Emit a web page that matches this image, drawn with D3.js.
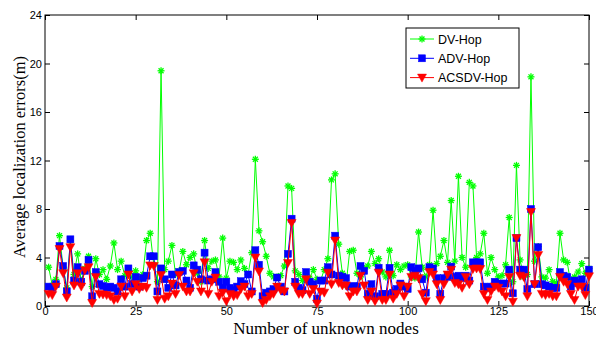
<!DOCTYPE html>
<html lang="en">
<head>
<meta charset="UTF-8">
<title>Average localization errors</title>
<script src="https://cdn.jsdelivr.net/npm/d3@7"></script>
<style>
  body { margin: 0; background: #fff; }
  .axis text { font-family: "Liberation Sans", Arial, sans-serif; font-size: 11px; fill: #000; }
  .axis path, .axis line { stroke: #000; }
</style>
</head>
<body>
<script>
// node index 1..150
var nodes = d3.range(1, 151);
var dvHop = [3.2,1.7,2.2,5.8,3.2,1.5,5.4,2.6,4.3,2.1,3.1,4.1,1.6,3.9,2.6,3.0,2.2,3.3,5.2,3.0,
  3.7,2.5,2.7,2.4,2.9,2.2,2.6,5.4,6.0,3.4,2.0,19.4,3.0,3.7,5.0,2.6,2.9,4.5,3.4,4.0,
  4.3,2.7,2.0,5.4,3.1,3.7,3.8,2.4,5.6,2.3,3.7,3.6,3.0,3.8,3.1,2.6,4.4,12.1,6.2,5.3,
  4.1,2.7,2.4,2.4,2.5,3.3,9.9,9.7,2.9,2.6,2.1,2.4,2.3,3.0,2.2,2.1,3.0,3.9,10.4,10.9,
  5.1,2.7,1.7,4.5,4.6,2.7,2.4,3.1,3.3,4.5,3.5,3.9,2.8,2.4,4.6,2.5,3.4,3.0,3.3,3.4,
  2.4,2.3,6.1,3.2,2.4,3.4,7.9,3.5,4.1,5.4,3.6,8.7,3.7,10.7,4.0,3.2,10.2,9.9,4.0,4.3,
  6.0,2.7,4.0,3.0,2.4,2.5,3.4,7.3,2.0,11.6,3.8,2.4,2.6,18.9,3.7,4.9,2.4,2.3,3.0,2.0,
  1.9,6.0,3.8,3.6,1.8,2.4,2.8,3.5,2.7,3.1];
var advHop = [1.6,1.5,1.8,4.95,3.3,1.2,5.5,2.1,3.2,2.0,2.9,3.8,0.8,2.8,1.8,1.65,1.5,1.6,1.5,1.2,
  2.2,1.6,3.1,1.8,2.4,1.6,2.3,2.5,4.1,4.1,1.2,3.1,2.2,1.5,2.6,1.7,2.8,2.9,2.1,1.5,
  3.35,3.0,2.2,4.4,2.1,2.2,2.8,2.0,1.5,2.0,1.5,1.3,1.6,2.05,1.8,2.6,1.2,4.6,3.4,0.8,
  1.1,1.2,1.4,2.35,1.6,1.2,4.3,7.2,2.0,1.5,1.3,2.8,2.0,1.8,0.6,2.1,2.1,3.2,2.6,5.8,
  2.5,2.4,2.3,1.6,1.65,1.6,3.3,2.9,1.0,1.8,0.8,3.15,1.0,1.0,3.15,1.1,1.4,1.85,1.6,1.4,
  3.2,2.9,3.1,2.2,1.1,3.2,3.1,2.3,1.0,2.3,2.4,3.25,2.4,2.5,2.3,2.5,2.1,3.6,3.6,3.6,
  1.6,1.5,1.6,2.0,1.85,1.85,1.85,3.0,1.05,5.6,3.0,3.0,1.4,8.0,1.8,4.85,1.8,1.7,1.6,1.5,
  1.5,2.8,2.5,2.4,1.6,2.1,1.9,2.2,1.5,3.0];
var acsdvHop = [1.0,0.9,1.6,4.7,2.7,0.7,4.85,1.7,2.7,1.6,2.95,3.2,0.25,2.4,1.0,0.95,0.9,0.8,0.5,0.6,
  1.6,0.8,2.6,1.2,1.8,1.4,1.6,1.5,3.35,3.3,0.5,2.55,0.6,0.8,1.85,1.0,2.55,1.6,1.2,1.2,
  2.7,2.0,1.2,3.6,1.0,2.0,2.35,0.8,1.1,0.4,1.0,0.8,0.9,1.4,1.6,0.8,1.0,4.0,2.85,0.25,
  0.5,0.8,1.0,1.6,1.3,1.2,3.55,6.85,1.6,1.0,1.0,2.2,1.0,1.4,0.2,1.2,1.1,2.75,1.8,5.4,
  1.9,1.7,1.7,0.8,1.2,1.2,2.5,1.7,0.5,1.2,0.4,2.75,0.5,0.5,2.6,0.6,1.0,1.7,0.8,1.6,
  2.4,2.5,2.3,1.0,0.4,2.8,2.6,1.8,0.5,1.8,2.6,3.0,1.9,1.8,1.5,2.4,1.8,3.05,3.1,3.05,
  1.0,0.5,1.2,1.6,1.5,1.2,0.8,2.4,0.35,5.6,2.5,2.4,0.8,7.75,1.8,4.2,1.0,0.9,1.0,0.8,
  0.8,2.4,2.0,1.8,1.0,0.5,1.6,1.6,0.9,2.45];
var xTicks = [0,25,50,75,100,125,150];
var yTicks = [0,4,8,12,16,20,24];
var seriesNames = ["DV-Hop","ADV-Hop","ACSDV-Hop"];

var width = 596, height = 338;
var padding = {top: 15, right: 7, bottom: 32, left: 45};
var innerW = width - padding.left - padding.right;
var innerH = height - padding.top - padding.bottom;

var svg = d3.select("body").append("svg")
  .attr("width", width)
  .attr("height", height);

var xScale = d3.scaleLinear().domain([0,150]).range([0, innerW]);
var yScale = d3.scaleLinear().domain([0,24]).range([innerH, 0]);

var g = svg.append("g").attr("transform", "translate(" + padding.left + "," + padding.top + ")");

// frame
g.append("rect").attr("width", innerW).attr("height", innerH)
  .attr("fill", "none").attr("stroke", "#000").attr("stroke-width", 1);

// axes, ticks point inward like matlab
g.append("g").attr("class", "axis")
  .attr("transform", "translate(0," + innerH + ")")
  .call(d3.axisBottom(xScale).tickValues(xTicks).tickSize(-5).tickPadding(1));
g.append("g").attr("class", "axis")
  .call(d3.axisTop(xScale).tickValues(xTicks).tickSize(-5).tickFormat(""));
g.append("g").attr("class", "axis")
  .call(d3.axisLeft(yScale).tickValues(yTicks).tickSize(-5).tickPadding(3));
g.append("g").attr("class", "axis")
  .attr("transform", "translate(" + innerW + ",0)")
  .call(d3.axisRight(yScale).tickValues(yTicks).tickSize(-5).tickFormat(""));
g.selectAll(".axis .domain").remove();

var line = d3.line()
  .x(function(d, i){ return xScale(nodes[i]); })
  .y(function(d){ return yScale(d); });

var colors = ["#00ff00", "#0000ff", "#ff0000"];
var allData = [dvHop, advHop, acsdvHop];

// marker drawers
function star(sel, x, y, c) {
  var r = 3.5;
  [0, 45, 90, 135].forEach(function(a){
    var rad = a * Math.PI / 180;
    sel.append("line")
      .attr("x1", x - r*Math.cos(rad)).attr("y1", y - r*Math.sin(rad))
      .attr("x2", x + r*Math.cos(rad)).attr("y2", y + r*Math.sin(rad))
      .attr("stroke", c).attr("stroke-width", 1.3);
  });
}
function square(sel, x, y, c) {
  sel.append("rect").attr("x", x-3.5).attr("y", y-3.5).attr("width", 7).attr("height", 7)
    .attr("fill", c).attr("stroke", c).attr("stroke-width", 0.5);
}
function tri(sel, x, y, c) {
  sel.append("path").attr("d", "M" + (x-4.5) + "," + (y-3.5) + "L" + (x+4.5) + "," + (y-3.5) + "L" + x + "," + (y+4.5) + "Z")
    .attr("fill", c).attr("stroke", c).attr("stroke-width", 0.5);
}
var markers = [star, square, tri];

allData.forEach(function(data, k){
  g.append("path").datum(data)
    .attr("d", line)
    .attr("fill", "none")
    .attr("stroke", colors[k])
    .attr("stroke-width", 1);
  var mg = g.append("g");
  data.forEach(function(d, i){
    markers[k](mg, xScale(nodes[i]), yScale(d), colors[k]);
  });
});

// legend
var lg = svg.append("g").attr("transform", "translate(406,28)");
lg.append("rect").attr("width", 113).attr("height", 60)
  .attr("fill", "#fff").attr("stroke", "#000").attr("stroke-width", 1);
seriesNames.forEach(function(name, k){
  var yy = 11 + k*19.3;
  lg.append("line").attr("x1", 4).attr("x2", 28).attr("y1", yy).attr("y2", yy)
    .attr("stroke", colors[k]).attr("stroke-width", 1);
  markers[k](lg, 16, yy, colors[k]);
  lg.append("text").attr("x", 32).attr("y", yy + 4.5)
    .attr("font-family", "Liberation Sans, Arial, sans-serif").attr("font-size", 12.5)
    .text(name);
});

// axis labels
svg.append("text")
  .attr("x", 326).attr("y", 334)
  .attr("text-anchor", "middle")
  .attr("font-family", "Liberation Serif, Times New Roman, serif").attr("font-size", 17)
  .text("Number of unknown nodes");
svg.append("text")
  .attr("transform", "translate(25,157) rotate(-90)")
  .attr("text-anchor", "middle")
  .attr("font-family", "Liberation Serif, Times New Roman, serif").attr("font-size", 16.5)
  .text("Average localization errors(m)");
</script>
</body>
</html>
